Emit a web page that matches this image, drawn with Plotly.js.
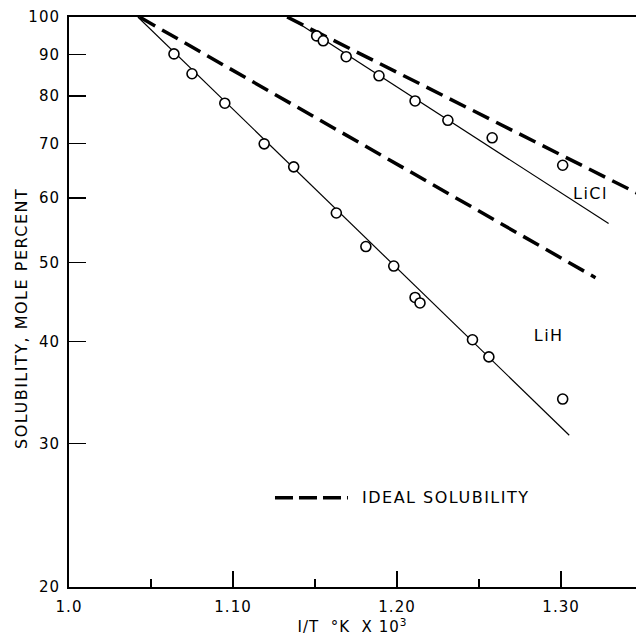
<!DOCTYPE html>
<html>
<head>
<meta charset="utf-8">
<script src="https://cdn.plot.ly/plotly-3.0.1.min.js"></script>
<style>
html,body{margin:0;padding:0;background:#fff;}
#chart{width:636px;height:638px;}
#chart svg text{letter-spacing:1px;}
#chart svg .annotation-text{letter-spacing:1.5px;}
</style>
</head>
<body>
<div id="chart"></div>
<script>
// LiH measured solubility (x = 1/T x 10^3, y = mole percent)
const lihX = [1.064, 1.075, 1.095, 1.119, 1.137, 1.163, 1.181, 1.198, 1.211, 1.214, 1.246, 1.256, 1.301];
const lihY = [90.1, 85.2, 78.4, 69.9, 65.5, 57.5, 52.3, 49.5, 45.3, 44.6, 40.2, 38.3, 34.0];
// LiH fitted line
const lihFitX = [1.042, 1.305];
const lihFitY = [100, 30.7];
// LiH ideal solubility
const lihIdealX = [1.043, 1.321];
const lihIdealY = [100, 47.9];

// LiCl measured solubility
const liclX = [1.151, 1.155, 1.169, 1.189, 1.211, 1.231, 1.258, 1.301];
const liclY = [94.8, 93.5, 89.4, 84.7, 78.9, 74.7, 71.1, 65.8];
// LiCl fitted line
const liclFitX = [1.134, 1.329];
const liclFitY = [100, 55.8];
// LiCl ideal solubility
const liclIdealX = [1.133, 1.36];
const liclIdealY = [100, 58.9];

// axis ticks
const xTickVals = [1.0, 1.10, 1.20, 1.30];
const xTickText = ["1.0", "1.10", "1.20", "1.30"];
const xMinorVals = [1.05, 1.15, 1.25];
const yTickVals = [20, 30, 40, 50, 60, 70, 80, 90, 100];
const yTickText = ["20", "30", "40", "50", "60", "70", "80", "90", "100"];

const FONT = "DejaVu Sans, Liberation Sans, sans-serif";
const solid = {color: "#000", width: 1.2};
const dashed = {color: "#000", width: 3.5, dash: "18px,8px"};
const marker = {symbol: "circle", size: 10, color: "#fff", line: {color: "#000", width: 1.6}};

const traces = [
  {x: lihIdealX, y: lihIdealY, mode: "lines", line: dashed, showlegend: false, hoverinfo: "skip"},
  {x: liclIdealX, y: liclIdealY, mode: "lines", line: dashed, showlegend: false, hoverinfo: "skip"},
  {x: lihFitX, y: lihFitY, mode: "lines", line: solid, showlegend: false},
  {x: liclFitX, y: liclFitY, mode: "lines", line: solid, showlegend: false},
  {x: lihX, y: lihY, mode: "markers", marker: marker, showlegend: false},
  {x: liclX, y: liclY, mode: "markers", marker: marker, showlegend: false}
];

const layout = {
  width: 636, height: 638,
  margin: {l: 69, r: 0, t: 17, b: 51, pad: 0},
  paper_bgcolor: "#fff", plot_bgcolor: "#fff",
  font: {family: FONT, color: "#000", size: 15},
  showlegend: false,
  xaxis: {
    range: [1.0, 1.3457], showgrid: false, zeroline: false,
    showline: true, linecolor: "#000", linewidth: 2, mirror: true,
    ticks: "inside", ticklen: 16, tickwidth: 1.5, tickcolor: "#000",
    tickmode: "array", tickvals: xTickVals, ticktext: xTickText,
    minor: {tickmode: "array", tickvals: xMinorVals, ticks: "inside", ticklen: 8, tickwidth: 1.5, tickcolor: "#000", showgrid: false},
    tickfont: {size: 15, family: FONT}, ticklabelstandoff: 5,
    title: {text: "I/T  °K  X 10<sup>3</sup>", font: {size: 15, family: FONT}, standoff: 0}
  },
  yaxis: {
    type: "log", range: [Math.log10(20), 2], showgrid: false, zeroline: false,
    showline: true, linecolor: "#000", linewidth: 2, mirror: false,
    ticks: "inside", ticklen: 17, tickwidth: 1.5, tickcolor: "#000",
    tickmode: "array", tickvals: yTickVals, ticktext: yTickText,
    tickfont: {size: 15, family: FONT}, ticklabelstandoff: 4
  },
  shapes: [
    {type: "line", xref: "paper", yref: "paper", x0: 0.3633, x1: 0.492, y0: 0.1567, y1: 0.1567,
     line: {color: "#000", width: 3.5, dash: "18px,6px"}}
  ],
  annotations: [
    {xref: "paper", yref: "paper", x: -0.083, y: 0.472, xanchor: "center", yanchor: "middle",
     textangle: -90, text: "SOLUBILITY, MOLE PERCENT", showarrow: false, font: {size: 16, family: FONT}},
    {xref: "paper", yref: "paper", x: 0.534, y: 0.1567, xanchor: "left", yanchor: "middle",
     text: "IDEAL SOLUBILITY", showarrow: false, font: {size: 16, family: FONT}},
    {x: 1.3177, y: Math.log10(60.8), text: "LiCl", showarrow: false, font: {size: 16, family: FONT}},
    {x: 1.2921, y: Math.log10(40.7), text: "LiH", showarrow: false, font: {size: 16, family: FONT}}
  ]
};

Plotly.newPlot("chart", traces, layout, {staticPlot: true, displayModeBar: false});
</script>
</body>
</html>
